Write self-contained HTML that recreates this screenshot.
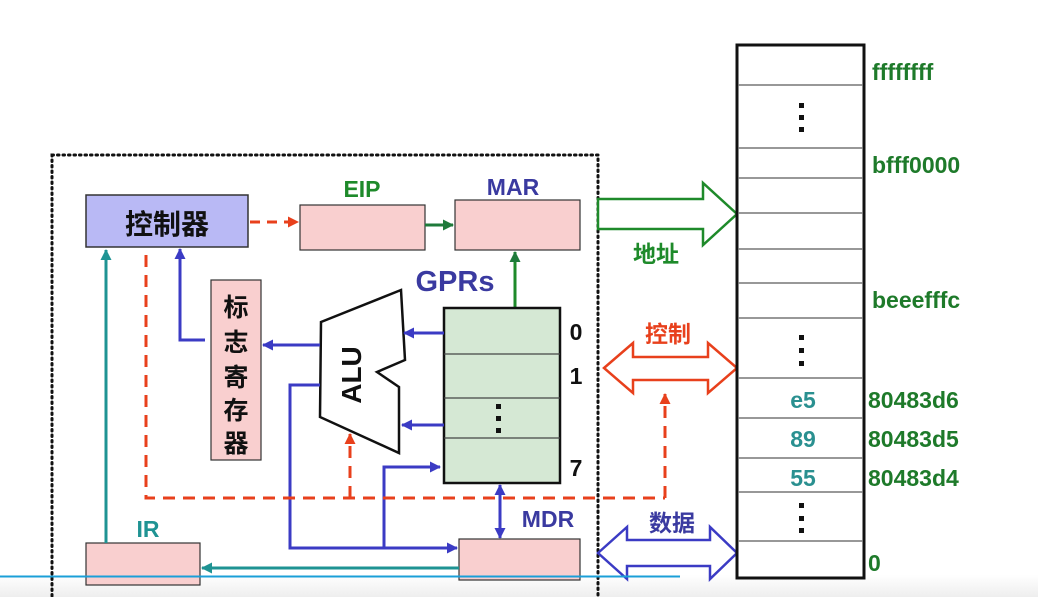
<!DOCTYPE html>
<html><head><meta charset="utf-8"><style>
html,body{margin:0;padding:0;background:#fff;}
svg{display:block;}
text{font-family:"Liberation Sans","Noto Sans CJK SC",sans-serif;font-weight:bold;}
</style></head><body>
<svg width="1038" height="597" viewBox="0 0 1038 597" xmlns="http://www.w3.org/2000/svg">
<defs>
<linearGradient id="bg" x1="0" y1="0" x2="0" y2="1"><stop offset="0" stop-color="#fff"/><stop offset="1" stop-color="#eeeeee"/></linearGradient>
<marker id="ab" markerWidth="11" markerHeight="11" refX="10" refY="5.5" orient="auto" markerUnits="userSpaceOnUse"><path d="M0,0L11,5.5L0,11z" fill="#3b3bc4"/></marker>
<marker id="ag" markerWidth="11" markerHeight="11" refX="10" refY="5.5" orient="auto" markerUnits="userSpaceOnUse"><path d="M0,0L11,5.5L0,11z" fill="#1e7a3a"/></marker>
<marker id="at" markerWidth="11" markerHeight="11" refX="10" refY="5.5" orient="auto" markerUnits="userSpaceOnUse"><path d="M0,0L11,5.5L0,11z" fill="#1f9393"/></marker>
<marker id="ar" markerWidth="11" markerHeight="11" refX="10" refY="5.5" orient="auto" markerUnits="userSpaceOnUse"><path d="M0,0L11,5.5L0,11z" fill="#e8401c"/></marker>
</defs>
<rect x="0" y="575" width="1038" height="22" fill="url(#bg)"/>
<rect x="52" y="155" width="546" height="450" fill="none" stroke="#111" stroke-width="3" stroke-dasharray="1.5 4" stroke-linecap="round"/>
<rect x="86" y="195" width="162" height="52" fill="#b9b9f5" stroke="#333" stroke-width="1.5"/>
<text x="167" y="234" font-size="28" text-anchor="middle" fill="#111">控制器</text>
<rect x="300" y="205" width="125" height="45" fill="#f9cfcf" stroke="#333" stroke-width="1.2"/>
<text x="362" y="197" font-size="23" text-anchor="middle" fill="#1e8a2a">EIP</text>
<rect x="455" y="200" width="125" height="50" fill="#f9cfcf" stroke="#333" stroke-width="1.2"/>
<text x="513" y="195" font-size="23" text-anchor="middle" fill="#3a3aa0">MAR</text>
<line x1="250" y1="222" x2="298" y2="222" stroke="#e8401c" stroke-width="3" stroke-dasharray="10 7" marker-end="url(#ar)"/>
<line x1="425" y1="225" x2="453" y2="225" stroke="#1e7a3a" stroke-width="3" marker-end="url(#ag)"/>
<line x1="515" y1="308" x2="515" y2="252" stroke="#1e8a2a" stroke-width="3" marker-end="url(#ag)"/>
<text x="455" y="291" font-size="29" text-anchor="middle" fill="#3a3aa0">GPRs</text>
<rect x="444" y="308" width="116" height="175" fill="#d5e8d4" stroke="#111" stroke-width="2.5"/>
<line x1="444" y1="354" x2="560" y2="354" stroke="#444" stroke-width="1.2"/>
<line x1="444" y1="398" x2="560" y2="398" stroke="#444" stroke-width="1.2"/>
<line x1="444" y1="438" x2="560" y2="438" stroke="#444" stroke-width="1.2"/>
<rect x="496" y="404" width="5" height="5" fill="#111"/><rect x="496" y="416" width="5" height="5" fill="#111"/><rect x="496" y="428" width="5" height="5" fill="#111"/>
<text x="576" y="340" font-size="23" text-anchor="middle" fill="#111">0</text>
<text x="576" y="384" font-size="23" text-anchor="middle" fill="#111">1</text>
<text x="576" y="476" font-size="23" text-anchor="middle" fill="#111">7</text>
<rect x="211" y="280" width="50" height="180" fill="#f9cfcf" stroke="#333" stroke-width="1.2"/>
<text x="236" y="316" font-size="25" text-anchor="middle" fill="#111">标</text>
<text x="236" y="351" font-size="25" text-anchor="middle" fill="#111">志</text>
<text x="236" y="386" font-size="25" text-anchor="middle" fill="#111">寄</text>
<text x="236" y="419" font-size="25" text-anchor="middle" fill="#111">存</text>
<text x="236" y="452" font-size="25" text-anchor="middle" fill="#111">器</text>
<polygon points="321,322 401,290 405,360 377,372 399,387 399,453 320,417" fill="#fff" stroke="#111" stroke-width="2.5"/>
<text transform="translate(361,375) rotate(-90)" font-size="28" text-anchor="middle" fill="#111">ALU</text>
<g stroke="#3b3bc4" stroke-width="3" fill="none">
<line x1="444" y1="333" x2="404" y2="333" marker-end="url(#ab)"/>
<line x1="444" y1="425" x2="402" y2="425" marker-end="url(#ab)"/>
<line x1="320" y1="345" x2="263" y2="345" marker-end="url(#ab)"/>
<polyline points="205,340 180,340 180,249" marker-end="url(#ab)"/>
<polyline points="320,385 290,385 290,548 457,548" marker-end="url(#ab)"/>
<polyline points="384,548 384,467 440,467" marker-end="url(#ab)"/>
<line x1="500" y1="505" x2="500" y2="538" marker-end="url(#ab)"/>
<line x1="500" y1="515" x2="500" y2="485" marker-end="url(#ab)"/>
</g>
<rect x="459" y="539" width="121" height="41" fill="#f9cfcf" stroke="#333" stroke-width="1.2"/>
<text x="548" y="527" font-size="23" text-anchor="middle" fill="#3a3aa0">MDR</text>
<rect x="86" y="543" width="114" height="42" fill="#f9cfcf" stroke="#333" stroke-width="1.2"/>
<text x="148" y="537" font-size="23" text-anchor="middle" fill="#1f9393">IR</text>
<line x1="459" y1="568" x2="202" y2="568" stroke="#1f9393" stroke-width="3" marker-end="url(#at)"/>
<line x1="106" y1="543" x2="106" y2="250" stroke="#1f9393" stroke-width="3" marker-end="url(#at)"/>
<polyline points="146,255 146,498 665,498" stroke="#e8401c" stroke-width="3" fill="none" stroke-dasharray="12 8"/>
<line x1="665" y1="498" x2="665" y2="394" stroke="#e8401c" stroke-width="3" stroke-dasharray="12 8" marker-end="url(#ar)"/>
<line x1="350" y1="498" x2="350" y2="434" stroke="#e8401c" stroke-width="3" stroke-dasharray="12 8" marker-end="url(#ar)"/>
<polygon points="598,199 703,199 703,183 737,214 703,245 703,229 598,229" fill="#fff" stroke="#1e8a2a" stroke-width="2.5"/>
<text x="656" y="262" font-size="23" text-anchor="middle" fill="#1e8a2a">地址</text>
<polygon points="604,368 633,343 633,357 708,357 708,343 737,368 708,393 708,380 633,380 633,393" fill="#fff" stroke="#e8401c" stroke-width="2.5"/>
<text x="668" y="342" font-size="23" text-anchor="middle" fill="#e8401c">控制</text>
<polygon points="598,553 627,527 627,540 710,540 710,527 737,553 710,579 710,566 627,566 627,579" fill="#fff" stroke="#3b3bc4" stroke-width="2.5"/>
<text x="672" y="531" font-size="23" text-anchor="middle" fill="#3a3aa0">数据</text>
<rect x="737" y="45" width="127" height="533" fill="#fff" stroke="#111" stroke-width="3"/>
<g stroke="#777" stroke-width="1.5">
<line x1="738" y1="85" x2="863" y2="85"/><line x1="738" y1="148" x2="863" y2="148"/><line x1="738" y1="178" x2="863" y2="178"/>
<line x1="738" y1="213" x2="863" y2="213"/><line x1="738" y1="249" x2="863" y2="249"/><line x1="738" y1="283" x2="863" y2="283"/>
<line x1="738" y1="318" x2="863" y2="318"/><line x1="738" y1="378" x2="863" y2="378"/><line x1="738" y1="418" x2="863" y2="418"/>
<line x1="738" y1="458" x2="863" y2="458"/><line x1="738" y1="492" x2="863" y2="492"/><line x1="738" y1="541" x2="863" y2="541"/>
</g>
<g fill="#111">
<rect x="799" y="103" width="5" height="5"/><rect x="799" y="115" width="5" height="5"/><rect x="799" y="127" width="5" height="5"/>
<rect x="799" y="335" width="5" height="5"/><rect x="799" y="348" width="5" height="5"/><rect x="799" y="361" width="5" height="5"/>
<rect x="799" y="503" width="5" height="5"/><rect x="799" y="516" width="5" height="5"/><rect x="799" y="528" width="5" height="5"/>
</g>
<text x="803" y="408" font-size="23" text-anchor="middle" fill="#2a9090">e5</text>
<text x="803" y="447" font-size="23" text-anchor="middle" fill="#2a9090">89</text>
<text x="803" y="486" font-size="23" text-anchor="middle" fill="#2a9090">55</text>
<g font-size="23" fill="#1e7a2a">
<text x="872" y="80">ffffffff</text>
<text x="872" y="173">bfff0000</text>
<text x="872" y="308">beeefffc</text>
<text x="868" y="408">80483d6</text>
<text x="868" y="447">80483d5</text>
<text x="868" y="486">80483d4</text>
<text x="868" y="571">0</text>
</g>
<line x1="0" y1="576.5" x2="680" y2="576.5" stroke="#1a9fd8" stroke-width="2"/>
</svg>
</body></html>
